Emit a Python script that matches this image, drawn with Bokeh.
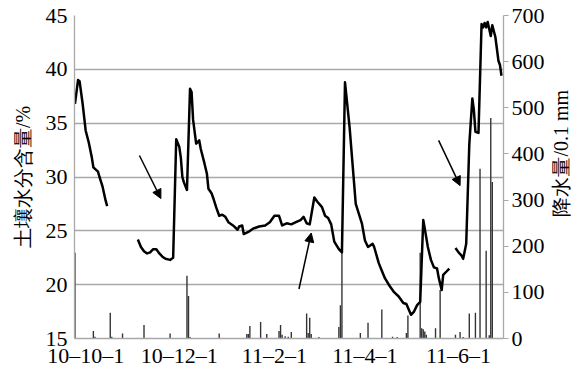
import math

from bokeh.plotting import figure
from bokeh.layouts import row
from bokeh.models import (Range1d, LinearAxis, FixedTicker, Arrow, NormalHead,
                          ColumnDataSource)
from bokeh.core.properties import value
from bokeh.embed import file_html
from bokeh.resources import INLINE

# Days are counted from 2010-10-01
tick_days = [0, 61, 123, 182, 243]
tick_labels = ["10–10–1", "10–12–1", "11–2–1", "11–4–1", "11–6–1"]

# Soil moisture (%), three recorded stretches
seg1_day = [-7, -5, -4, -2, 0, 2, 4, 5, 8, 9, 11, 13, 14]
seg1_val = [36.8, 39.0, 38.9, 36.8, 34.3, 33.2, 31.8, 30.9, 30.5, 30.0, 29.1, 27.8, 27.3]

seg2_day = [34, 36, 38, 40, 42, 44, 46, 48, 50, 52, 55, 56, 57, 59, 61, 62, 63, 64, 66,
            68, 69, 70, 72, 74, 75, 77, 79, 80, 82, 83, 85, 87, 89, 91, 93, 96, 99, 100,
            102, 103, 106, 109, 113, 117, 120, 123, 126, 128, 131, 134, 137, 140, 142,
            144, 146, 149, 151, 154, 156, 158, 160, 162, 165, 167, 169, 172, 176, 180,
            182, 184, 187, 188, 191, 193, 195, 198, 201, 204, 207, 209, 212, 214, 216,
            218, 220, 221, 223, 225, 227, 229, 230, 232, 233, 235, 237]
seg2_val = [24.2, 23.5, 23.1, 22.9, 23.0, 23.3, 23.3, 22.9, 22.6, 22.4, 22.3, 22.4, 22.5,
            33.5, 32.8, 31.8, 30.0, 29.5, 28.8, 38.2, 37.9, 35.3, 33.1, 33.4, 32.6, 31.5,
            30.3, 28.9, 28.5, 28.1, 27.2, 26.4, 26.5, 26.3, 25.8, 25.5, 25.1, 25.4, 25.5,
            24.7, 24.9, 25.2, 25.4, 25.5, 25.8, 26.4, 26.4, 25.5, 25.7, 25.6, 25.8, 26.0,
            26.3, 25.7, 25.6, 28.1, 27.7, 27.2, 26.4, 26.2, 25.6, 24.0, 23.3, 23.0, 38.8,
            34.6, 27.5, 25.7, 24.1, 23.5, 23.8, 23.5, 22.0, 21.3, 20.6, 19.9, 19.3, 18.9,
            18.3, 18.2, 17.2, 17.5, 18.1, 18.4, 26.0, 25.2, 23.5, 22.3, 21.6, 21.5, 20.7,
            19.5, 20.9, 21.2, 21.5]

seg3_day = [241, 243, 245, 246, 248, 250, 252, 253, 254, 256, 258, 259, 260, 261, 262,
            264, 265, 267, 269, 270, 271]
seg3_val = [23.4, 23.0, 22.7, 22.4, 23.8, 33.0, 37.3, 36.2, 34.2, 34.1, 44.2, 43.9, 44.3,
            43.9, 44.4, 43.1, 44.1, 43.0, 40.8, 40.4, 39.4]

# Daily precipitation (0.1 mm)
rain_day = [-7, 5, 6, 16, 17, 24, 38, 55, 66, 67, 68, 87, 105, 106, 107, 114, 118, 126,
            127, 128, 130, 132, 134, 144, 145, 146, 147, 152, 165, 166, 167, 179, 184,
            193, 200, 203, 209, 210, 218, 219, 220, 221, 222, 228, 231, 241, 244, 246,
            250, 254, 257, 261, 263, 264, 265]
rain_val = [186, 16, 4, 56, 4, 11, 29, 11, 136, 92, 3, 11, 10, 10, 27, 36, 10, 16, 29, 8,
            5, 4, 14, 54, 12, 45, 10, 3, 25, 72, 190, 12, 34, 63, 4, 3, 12, 50, 186, 22,
            20, 15, 8, 22, 105, 8, 14, 3, 54, 56, 368, 190, 7, 478, 339]

# Arrows marking the dry spells (day, moisture)
arrow_x0 = [35, 139, 230]
arrow_y0 = [32.0, 19.6, 33.4]
arrow_x1 = [49, 147, 244]
arrow_y1 = [28.0, 24.8, 29.2]

FONT = "Liberation Serif"
GRID = "#a8a8a8"
H = 373

p = figure(width=547, height=H, output_backend="svg", toolbar_location=None,
           x_range=Range1d(-7.3, 272.3), y_range=Range1d(15, 45),
           min_border_left=74, min_border_right=43, min_border_top=15,
           min_border_bottom=35)
p.extra_y_ranges = {"rain": Range1d(0, 700)}
p.outline_line_color = None
p.background_fill_color = "white"
p.border_fill_color = "white"

# precipitation bars on the secondary scale
p.vbar(x=rain_day, top=rain_val, width=0.9, y_range_name="rain",
       fill_color="#333333", line_color=None)

# soil moisture
for d, v in [(seg1_day, seg1_val), (seg2_day, seg2_val), (seg3_day, seg3_val)]:
    p.line(d, v, line_color="black", line_width=2.5, line_join="round")

arrows = ColumnDataSource(dict(x0=arrow_x0, y0=arrow_y0, x1=arrow_x1, y1=arrow_y1))
p.add_layout(Arrow(end=NormalHead(size=9, fill_color="black", line_color="black"),
                   x_start="x0", y_start="y0", x_end="x1", y_end="y1",
                   line_width=1.5, line_color="black", source=arrows))

# grid
p.xgrid.visible = False
p.ygrid.ticker = FixedTicker(ticks=[15, 20, 25, 30, 35, 40, 45])
p.ygrid.grid_line_color = GRID
p.ygrid.grid_line_width = 1.3

# bottom axis
xa = p.xaxis[0]
xa.ticker = FixedTicker(ticks=tick_days)
xa.major_label_overrides = {d: t for d, t in zip(tick_days, tick_labels)}
xa.major_tick_out = 0
xa.major_tick_in = 0
xa.minor_tick_out = 0
xa.minor_tick_in = 0
xa.axis_line_color = GRID
xa.axis_line_width = 1.3
xa.major_label_standoff = 4
xa.major_label_text_font = FONT
xa.major_label_text_font_size = "22px"
xa.major_label_text_color = "black"

# left axis
ya = p.yaxis[0]
ya.ticker = FixedTicker(ticks=[15, 20, 25, 30, 35, 40, 45])
ya.major_tick_out = 0
ya.major_tick_in = 0
ya.minor_tick_out = 0
ya.minor_tick_in = 0
ya.axis_line_color = GRID
ya.axis_line_width = 1.3
ya.major_label_standoff = 7
ya.major_label_text_font = FONT
ya.major_label_text_font_size = "22px"
ya.major_label_text_color = "black"
ya.axis_label = "土壤水分含量/%"
ya.axis_label_text_font = FONT
ya.axis_label_text_font_size = "20px"
ya.axis_label_text_font_style = "normal"
ya.axis_label_text_color = "black"
ya.axis_label_standoff = 9

# right axis for precipitation
ra = LinearAxis(y_range_name="rain")
ra.ticker = FixedTicker(ticks=[0, 100, 200, 300, 400, 500, 600, 700])
ra.major_tick_out = 5
ra.major_tick_in = 0
ra.minor_tick_out = 0
ra.minor_tick_in = 0
ra.major_tick_line_color = GRID
ra.axis_line_color = GRID
ra.axis_line_width = 1.3
ra.major_label_standoff = 3
ra.major_label_text_font = FONT
ra.major_label_text_font_size = "22px"
ra.major_label_text_color = "black"
p.add_layout(ra, "right")

# narrow strip carrying the precipitation title, reading upwards
side = figure(width=30, height=H, output_backend="svg", toolbar_location=None,
              x_range=Range1d(0, 30), y_range=Range1d(0, H),
              x_axis_type=None, y_axis_type=None, min_border=0)
side.outline_line_color = None
side.grid.visible = False
side.background_fill_color = "white"
side.border_fill_color = "white"
side.text(x=[13], y=[H - 159], text=["降水量/0.1 mm"], angle=math.pi / 2,
          text_align="center", text_baseline="middle",
          text_font=value(FONT), text_font_size="20px", text_color="black")

layout = row(p, side, spacing=0)
open("out.html", "w").write(file_html(layout, INLINE))
